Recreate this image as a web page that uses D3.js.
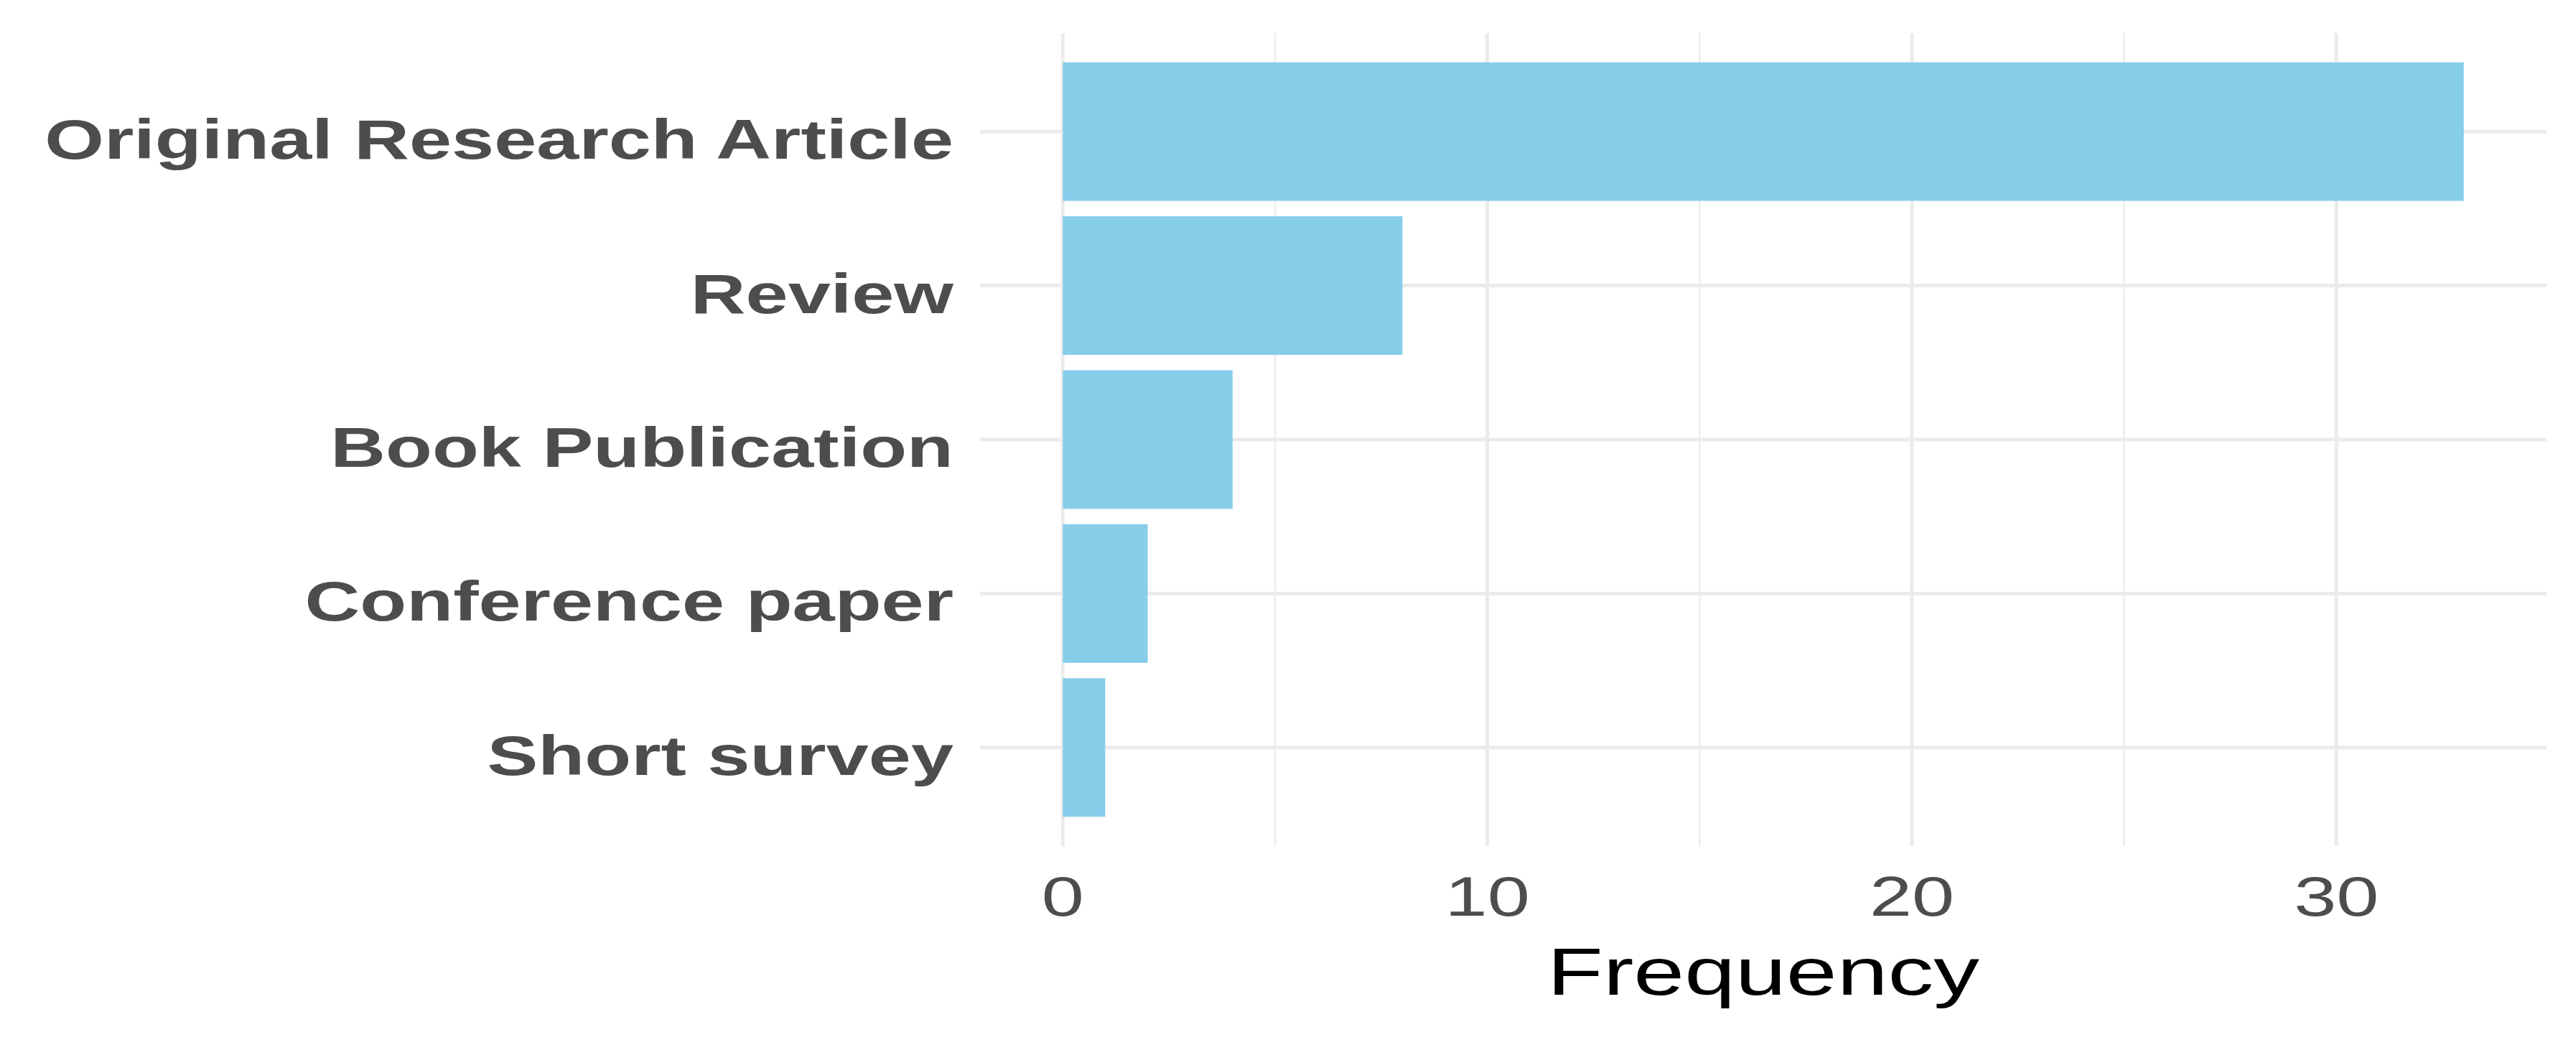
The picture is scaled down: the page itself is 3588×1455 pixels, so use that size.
<!DOCTYPE html>
<html>
<head>
<meta charset="utf-8">
<script src="https://cdn.jsdelivr.net/npm/d3@7"></script>
<style>
  body { margin: 0; background: #fff; }
  svg { display: block; }
</style>
</head>
<body>
<div id="chart"></div>
<script>
// data
let categories = ["Original Research Article", "Review", "Book Publication", "Conference paper", "Short survey"];
let frequency = [33, 8, 4, 2, 1];
let majorTicks = [0, 10, 20, 30];
let minorTicks = [5, 15, 25];

let W = 3588, H = 1455;
let stretch = 1.38; // the source picture is wider than it is tall

let svg = d3.select("#chart")
    .append("svg")
        .attr("width", W)
        .attr("height", H)
        .style("background-color", "white");

// panel extents
let x = d3.scaleLinear().domain([-1.95, 34.95]).range([1365, 3547]);
let y = d3.scaleBand().domain(categories).range([46, 1178])
    .paddingInner(0.1).paddingOuter(0.19);

let font = "'Liberation Sans', Arial, Helvetica, sans-serif";

// grid
svg.selectAll("line.minor").data(minorTicks).enter().append("line")
    .attr("class", "minor")
    .attr("x1", d => x(d)).attr("x2", d => x(d))
    .attr("y1", 46).attr("y2", 1178)
    .attr("stroke", "#efefef").attr("stroke-width", 3);

svg.selectAll("line.vmajor").data(majorTicks).enter().append("line")
    .attr("class", "vmajor")
    .attr("x1", d => x(d)).attr("x2", d => x(d))
    .attr("y1", 46).attr("y2", 1178)
    .attr("stroke", "#ebebeb").attr("stroke-width", 5);

svg.selectAll("line.hmajor").data(categories).enter().append("line")
    .attr("class", "hmajor")
    .attr("x1", x.range()[0]).attr("x2", x.range()[1])
    .attr("y1", d => y(d) + y.bandwidth() / 2)
    .attr("y2", d => y(d) + y.bandwidth() / 2)
    .attr("stroke", "#ebebeb").attr("stroke-width", 5);

// bars
svg.selectAll("rect.bar").data(frequency).enter().append("rect")
    .attr("class", "bar")
    .attr("x", x(0))
    .attr("y", (d, i) => y(categories[i]))
    .attr("width", d => x(d) - x(0))
    .attr("height", y.bandwidth())
    .attr("fill", "#87CEEB");

// category labels
svg.selectAll("text.cat").data(categories).enter().append("text")
    .attr("class", "cat")
    .attr("transform", d => "translate(1328," + (y(d) + y.bandwidth() / 2 + 38) + ") scale(" + stretch + ",1)")
    .attr("text-anchor", "end")
    .attr("font-family", font)
    .attr("font-weight", "bold")
    .attr("font-size", 77)
    .attr("fill", "#4d4d4d")
    .text(d => d);

// x tick labels
svg.selectAll("text.tick").data(majorTicks).enter().append("text")
    .attr("class", "tick")
    .attr("transform", d => "translate(" + x(d) + ",1275) scale(" + stretch + ",1)")
    .attr("text-anchor", "middle")
    .attr("font-family", font)
    .attr("font-size", 77)
    .attr("fill", "#4d4d4d")
    .text(d => d);

// axis title
svg.append("text")
    .attr("transform", "translate(" + (x.range()[0] + x.range()[1]) / 2 + ",1385) scale(1.37,1)")
    .attr("text-anchor", "middle")
    .attr("font-family", font)
    .attr("font-size", 93)
    .attr("fill", "#000")
    .text("Frequency");
</script>
</body>
</html>
